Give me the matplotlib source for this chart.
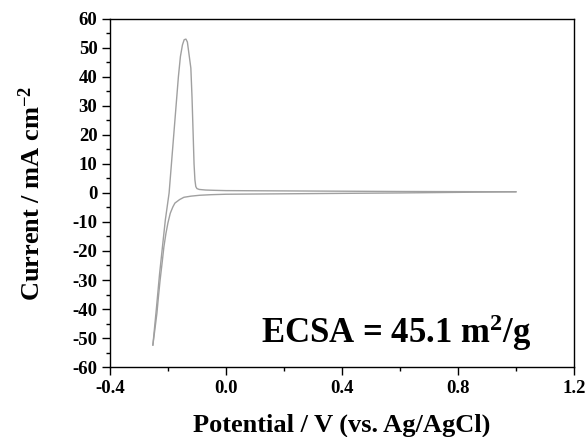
import matplotlib
matplotlib.use('Agg')
import matplotlib.pyplot as plt
from matplotlib.ticker import MultipleLocator

# anodic (forward) scan
v_fwd = [-0.252, -0.240, -0.229, -0.219, -0.209, -0.196, -0.188, -0.180, -0.172, -0.164,
         -0.157, -0.150, -0.144, -0.138, -0.133, -0.129, -0.125, -0.121, -0.117, -0.113,
         -0.110, -0.107, -0.104, -0.100, -0.092, -0.070, -0.040, 0.0, 0.2, 0.4, 0.6, 0.8, 1.0]
i_fwd = [-52.4, -40, -28, -18.6, -9.3, 0, 10, 20, 30, 40,
         47, 51, 52.8, 53, 52, 49, 46, 43, 33, 20,
         10, 4.5, 2.2, 1.5, 1.2, 1.0, 0.9, 0.8, 0.7, 0.6, 0.5, 0.45, 0.4]

# cathodic (reverse) scan
v_rev = [1.0, 0.8, 0.6, 0.4, 0.2, 0.0, -0.05, -0.09, -0.12, -0.145, -0.16, -0.176,
         -0.183, -0.192, -0.200, -0.207, -0.214, -0.220, -0.227, -0.233, -0.238, -0.245, -0.252]
i_rev = [0.4, 0.2, 0.0, -0.15, -0.3, -0.45, -0.6, -0.8, -1.1, -1.5, -2.3, -3.5,
         -4.8, -7, -10.3, -14, -18.6, -24, -30, -36, -41.4, -47, -52.4]

plt.rcParams['font.family'] = ['Liberation Serif', 'DejaVu Serif']
plt.rcParams['font.weight'] = 'bold'
plt.rcParams['axes.unicode_minus'] = False
plt.rcParams['mathtext.fontset'] = 'custom'
plt.rcParams['mathtext.rm'] = 'Liberation Serif:bold'
plt.rcParams['mathtext.bf'] = 'Liberation Serif:bold'
plt.rcParams['mathtext.it'] = 'Liberation Serif:bold'

fig = plt.figure(figsize=(5.88, 4.37), dpi=100)
ax = fig.add_axes([0.187, 0.160, 0.789, 0.797])

ax.plot(v_fwd, i_fwd, color='#a0a0a0', lw=1.0)
ax.plot(v_rev, i_rev, color='#a0a0a0', lw=1.0)

ax.set_xlim(-0.4, 1.2)
ax.set_ylim(-60, 60)
ax.xaxis.set_major_locator(MultipleLocator(0.4))
ax.xaxis.set_minor_locator(MultipleLocator(0.2))
ax.yaxis.set_major_locator(MultipleLocator(10))
ax.yaxis.set_minor_locator(MultipleLocator(5))
ax.xaxis.set_major_formatter(plt.FuncFormatter(lambda v, p: '%.1f' % v))
ax.tick_params(which='major', direction='out', length=6, width=1, labelsize=13.5, pad=3)
ax.tick_params(which='minor', direction='out', length=3, width=1)
for s in ax.spines.values():
    s.set_linewidth(1)

ax.set_xlabel('Potential / V (vs. Ag/AgCl)', fontsize=19, fontweight='bold', labelpad=12)
ax.set_ylabel('Current / mA cm$^{-2}$', fontsize=19, fontweight='bold', labelpad=20)
ax.text(0.908, 0.069, 'ECSA = 45.1 m$^{2}$/g', transform=ax.transAxes,
        fontsize=25, fontweight='bold', ha='right', va='baseline')

fig.savefig('out.png', dpi=100)
